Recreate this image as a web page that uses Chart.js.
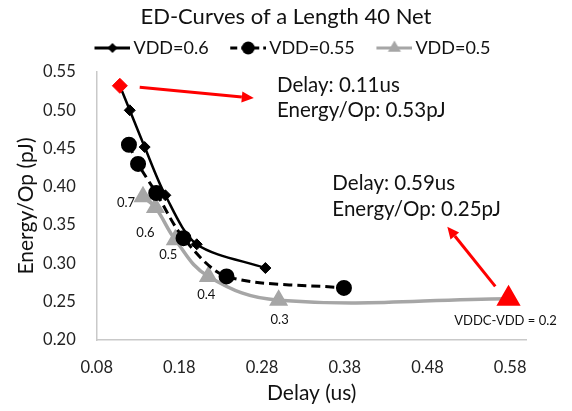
<!DOCTYPE html>
<html>
<head>
<meta charset="utf-8">
<script src="https://cdn.jsdelivr.net/npm/chart.js@4.4.1/dist/chart.umd.min.js"></script>
<style>
  html, body { margin: 0; padding: 0; background: #fff; }
  #wrap { width: 572px; height: 411px; }
</style>
</head>
<body>
<div id="wrap"><canvas id="ed_chart" width="572" height="411"></canvas></div>
<script>
// values
var seriesNames = ['VDD=0.6', 'VDD=0.55', 'VDD=0.5'];

var vdd06Delay  = [0.108, 0.120, 0.138, 0.163, 0.201, 0.284];
var vdd06Energy = [0.532, 0.500, 0.452, 0.389, 0.325, 0.294];

var vdd055Delay  = [0.119, 0.130, 0.152, 0.185, 0.237, 0.379];
var vdd055Energy = [0.455, 0.430, 0.392, 0.333, 0.283, 0.268];

var vdd05Delay  = [0.136, 0.151, 0.175, 0.215, 0.300, 0.578];
var vdd05Energy = [0.387, 0.373, 0.331, 0.283, 0.252, 0.254];
var vddcLabels  = ['0.7', '0.6', '0.5', '0.4', '0.3', 'VDDC-VDD = 0.2'];

var xTicks = [0.08, 0.18, 0.28, 0.38, 0.48, 0.58];
var yTicks = [0.20, 0.25, 0.30, 0.35, 0.40, 0.45, 0.50, 0.55];

var calloutText = [
  ['Delay: 0.11us', 'Energy/Op: 0.53pJ'],
  ['Delay: 0.59us', 'Energy/Op: 0.25pJ']
];

// where the callouts / arrows sit, in data units
var calloutAt = [[0.298, 0.533, 0.500], [0.365, 0.404, 0.371]];
var arrowsAt = [
  [0.132, 0.530, 0.270, 0.516],
  [0.562, 0.270, 0.504, 0.348]
];
var labelOffsets = [[-17, 6], [-10, 25], [-7, 15], [-2, 18], [1, 20], [-3, 22]];

var FONT = 'Lato, "Open Sans", sans-serif';
var RED = '#ff0000';
var GREY = '#a6a6a6';

function toPoints(xs, ys) {
  var pts = [];
  for (var i = 0; i < xs.length; i++) pts.push({x: xs[i], y: ys[i]});
  return pts;
}

function pick(n, first, rest, lastIdx, lastVal) {
  var a = [];
  for (var i = 0; i < n; i++) a.push(rest);
  if (first !== null) a[0] = first;
  if (lastIdx !== undefined) a[lastIdx] = lastVal;
  return a;
}

// little line+marker swatches for the legend
function swatch(color, dash, marker, r) {
  var c = document.createElement('canvas');
  c.width = 55; c.height = 18;
  var g = c.getContext('2d');
  g.strokeStyle = color;
  g.lineWidth = 3;
  g.setLineDash(dash);
  g.beginPath(); g.moveTo(19, 9); g.lineTo(55, 9); g.stroke();
  g.setLineDash([]);
  g.fillStyle = color;
  var cx = 37, cy = 9;
  g.beginPath();
  if (marker === 'diamond') {
    g.moveTo(cx - r, cy); g.lineTo(cx, cy - r); g.lineTo(cx + r, cy); g.lineTo(cx, cy + r);
  } else if (marker === 'circle') {
    g.arc(cx, cy, r, 0, Math.PI * 2);
  } else {
    g.moveTo(cx, cy - r); g.lineTo(cx + r * 0.87, cy + r * 0.5); g.lineTo(cx - r * 0.87, cy + r * 0.5);
  }
  g.closePath(); g.fill();
  return c;
}
var swatches = [
  swatch('#000', [], 'diamond', 5),
  swatch('#000', [7, 4], 'circle', 6.5),
  swatch(GREY, [], 'triangle', 7.5)
];

var extras = {
  id: 'extras',
  afterDatasetsDraw: function (chart) {
    var ctx = chart.ctx, xs = chart.scales.x, ys = chart.scales.y;
    ctx.save();

    // red arrows
    arrowsAt.forEach(function (a) {
      var x1 = xs.getPixelForValue(a[0]), y1 = ys.getPixelForValue(a[1]);
      var x2 = xs.getPixelForValue(a[2]), y2 = ys.getPixelForValue(a[3]);
      var ang = Math.atan2(y2 - y1, x2 - x1);
      var hl = 12, hw = 5.5;
      var bx = x2 - hl * Math.cos(ang), by = y2 - hl * Math.sin(ang);
      ctx.strokeStyle = RED; ctx.fillStyle = RED; ctx.lineWidth = 3;
      ctx.beginPath(); ctx.moveTo(x1, y1); ctx.lineTo(bx, by); ctx.stroke();
      ctx.beginPath();
      ctx.moveTo(x2, y2);
      ctx.lineTo(bx + hw * Math.sin(ang), by - hw * Math.cos(ang));
      ctx.lineTo(bx - hw * Math.sin(ang), by + hw * Math.cos(ang));
      ctx.closePath(); ctx.fill();
    });

    // callout text
    ctx.fillStyle = '#111';
    ctx.font = '20.5px ' + FONT;
    ctx.textAlign = 'left'; ctx.textBaseline = 'middle';
    calloutText.forEach(function (lines, i) {
      var at = calloutAt[i];
      var x = xs.getPixelForValue(at[0]);
      ctx.fillText(lines[0], x, ys.getPixelForValue(at[1]));
      ctx.fillText(lines[1], x, ys.getPixelForValue(at[2]));
    });

    // VDDC labels under the grey triangles
    var meta = chart.getDatasetMeta(2);
    ctx.font = '13px ' + FONT;
    ctx.textAlign = 'center';
    meta.data.forEach(function (pt, i) {
      ctx.fillText(vddcLabels[i], pt.x + labelOffsets[i][0], pt.y + labelOffsets[i][1]);
    });
    ctx.restore();
  }
};

var chart = new Chart(document.getElementById('ed_chart'), {
  type: 'scatter',
  data: {
    datasets: [
      {
        label: seriesNames[0],
        data: toPoints(vdd06Delay, vdd06Energy),
        showLine: true,
        borderColor: '#000',
        borderWidth: 2.5,
        tension: 0.3,
        pointStyle: 'rectRot',
        pointRadius: pick(6, 7.5, 5.5),
        pointBackgroundColor: pick(6, RED, '#000'),
        pointBorderColor: pick(6, RED, '#000'),
        pointBorderWidth: 1
      },
      {
        label: seriesNames[1],
        data: toPoints(vdd055Delay, vdd055Energy),
        showLine: true,
        borderColor: '#000',
        borderWidth: 3,
        borderDash: [9, 5],
        tension: 0.3,
        pointStyle: 'circle',
        pointRadius: 6.5,
        pointBackgroundColor: '#000',
        pointBorderColor: '#000'
      },
      {
        label: seriesNames[2],
        data: toPoints(vdd05Delay, vdd05Energy),
        showLine: true,
        borderColor: GREY,
        borderWidth: 3.5,
        tension: 0.4,
        pointStyle: 'triangle',
        pointRadius: pick(6, null, 7.5, 5, 10.5),
        pointBackgroundColor: pick(6, null, GREY, 5, RED),
        pointBorderColor: pick(6, null, GREY, 5, RED)
      }
    ]
  },
  options: {
    responsive: false,
    animation: false,
    devicePixelRatio: 1,
    layout: { padding: 0 },
    plugins: {
      title: {
        display: true,
        text: 'ED-Curves of a Length 40 Net',
        color: '#111',
        font: { family: FONT, size: 22, weight: 'normal' },
        padding: { top: 4, bottom: 0 }
      },
      legend: {
        display: true,
        labels: {
          color: '#111',
          font: { family: FONT, size: 18 },
          usePointStyle: true,
          pointStyleWidth: 43,
          padding: 8.6,
          generateLabels: function (c) {
            var items = Chart.defaults.plugins.legend.labels.generateLabels(c);
            items.forEach(function (it) { it.pointStyle = swatches[it.datasetIndex]; });
            return items;
          }
        }
      },
      tooltip: { enabled: false }
    },
    scales: {
      x: {
        type: 'linear',
        min: 0.08,
        max: 0.60,
        afterFit: function (s) { s.height = 71; },
        afterBuildTicks: function (s) { s.ticks = xTicks.map(function (v) { return {value: v}; }); },
        grid: { display: false, drawTicks: false },
        border: { display: true, color: '#c9c9c9', width: 1.5 },
        ticks: {
          color: '#222',
          padding: 18,
          maxRotation: 0,
          autoSkip: false,
          font: { family: FONT, size: 16.5 },
          callback: function (v) { return v.toFixed(2); }
        },
        title: {
          display: true,
          text: 'Delay (us)',
          color: '#111',
          font: { family: FONT, size: 21 },
          padding: { top: 0, bottom: 5 }
        }
      },
      xTop: {
        type: 'linear',
        position: 'top',
        display: true,
        afterFit: function (s) { s.height = 5; },
        grid: { display: false, drawTicks: false },
        border: { display: false },
        ticks: { display: false }
      },
      y: {
        type: 'linear',
        min: 0.20,
        max: 0.55,
        afterFit: function (s) { s.width = 96.7; },
        afterBuildTicks: function (s) { s.ticks = yTicks.map(function (v) { return {value: v}; }); },
        grid: { display: false, drawTicks: false },
        border: { display: true, color: '#c9c9c9', width: 1.5 },
        ticks: {
          color: '#222',
          padding: 21,
          font: { family: FONT, size: 16.5 },
          callback: function (v) { return v.toFixed(2); }
        },
        title: {
          display: true,
          text: 'Energy/Op (pJ)',
          color: '#111',
          font: { family: FONT, size: 21 },
          padding: { top: 14, bottom: 0 }
        }
      },
      yRight: {
        type: 'linear',
        position: 'right',
        display: true,
        afterFit: function (s) { s.width = 45.3; },
        grid: { display: false, drawTicks: false },
        border: { display: false },
        ticks: { display: false }
      }
    }
  },
  plugins: [extras]
});
</script>
</body>
</html>
